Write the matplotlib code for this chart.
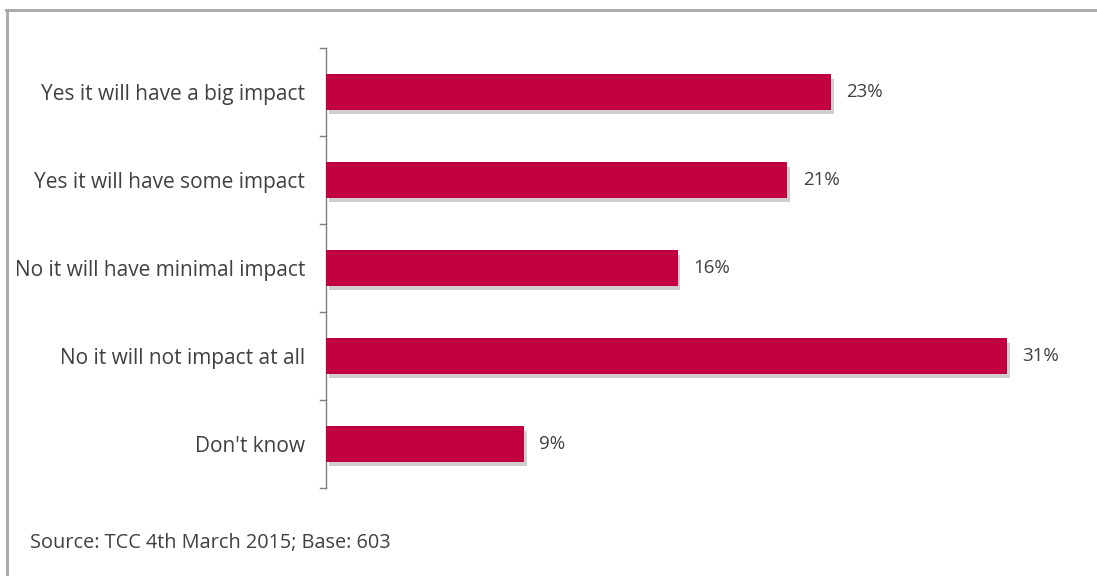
import matplotlib
matplotlib.use("Agg")
import matplotlib.pyplot as plt
import matplotlib.patheffects as pe
from matplotlib.lines import Line2D

categories = [
    "Yes it will have a big impact",
    "Yes it will have some impact",
    "No it will have minimal impact",
    "No it will not impact at all",
    "Don't know",
]
shares = [23, 21, 16, 31, 9]
value_labels = ["23%", "21%", "16%", "31%", "9%"]
source_note = "Source: TCC 4th March 2015; Base: 603"

bar_color = "#C2003F"
text_color = "#404040"

plt.rcParams["font.family"] = ["Open Sans", "DejaVu Sans"]

fig = plt.figure(figsize=(10.97, 5.76), dpi=100)
W, H = 1097, 576
ax = fig.add_axes([326 / W, 1 - 488 / H, (1095 - 326) / W, (488 - 48) / H])

ypos = list(range(len(categories)))
bars = ax.barh(ypos, shares, height=0.4, color=bar_color, zorder=3)
for b in bars:
    b.set_path_effects([pe.SimplePatchShadow(offset=(2, -3), shadow_rgbFace="#888888", alpha=0.4),
                        pe.Normal()])

for y, v, lab in zip(ypos, shares, value_labels):
    ax.annotate(lab, (v, y), xytext=(11, 0), textcoords="offset points",
                va="center", ha="left", fontsize=13.5, color=text_color)

ax.set_xlim(0, 35)
ax.set_ylim(len(categories) - 0.5, -0.5)
ax.set_yticks(ypos)
ax.set_yticklabels(categories, fontsize=15, color=text_color)
ax.tick_params(axis="y", length=0, pad=15)
ax.set_xticks([])

# short ticks between categories on the left spine
for b in [i - 0.5 for i in range(len(categories) + 1)]:
    ax.plot([-0.27, 0], [b, b], color="#7f7f7f", lw=1, clip_on=False, zorder=4)

for side in ["top", "right", "bottom"]:
    ax.spines[side].set_visible(False)
ax.spines["left"].set_color("#7f7f7f")
ax.spines["left"].set_linewidth(1)

fig.text(30 / W, 1 - 543 / H, source_note, fontsize=14.3, color=text_color,
         ha="left", va="center")

# outer frame (top and left edges)
fig.add_artist(Line2D([6 / W, 1], [1 - 9.5 / H, 1 - 9.5 / H], transform=fig.transFigure,
                      color="#a6a6a6", lw=2))
fig.add_artist(Line2D([6.5 / W, 6.5 / W], [0, 1 - 9.5 / H], transform=fig.transFigure,
                      color="#a6a6a6", lw=2))

fig.savefig("out.png", dpi=100, facecolor="white")
